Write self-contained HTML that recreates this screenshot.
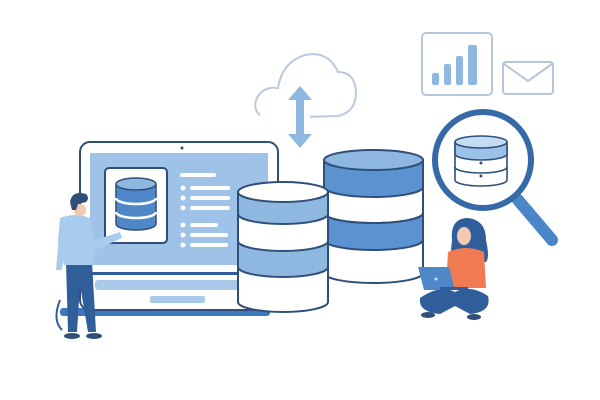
<!DOCTYPE html>
<html><head><meta charset="utf-8"><style>
html,body{margin:0;padding:0;background:#fff;width:600px;height:400px;overflow:hidden}
</style></head><body>
<svg width="600" height="400" viewBox="0 0 600 400" xmlns="http://www.w3.org/2000/svg">
<!-- cloud -->
<path d="M270 118 Q252 116 256 100 Q262 86 278 88 Q282 62 305 55 Q328 50 338 72 Q355 72 356 92 Q356 112 338 116 Z" fill="none" stroke="#b9cbe0" stroke-width="2"/>
<rect x="260" y="114" width="50" height="8" fill="#fff"/>
<!-- double arrow -->
<path d="M300 86 L288 100 L296 100 L296 134 L288 134 L300 148 L312 134 L304 134 L304 100 L312 100 Z" fill="#8fb8e0"/>
<!-- chart -->
<rect x="422" y="33" width="70" height="62" rx="4" fill="#fff" stroke="#b5c7dc" stroke-width="2"/>
<rect x="432" y="73" width="7" height="12" rx="2" fill="#8fb8e0"/>
<rect x="444" y="64" width="7" height="21" rx="2" fill="#8fb8e0"/>
<rect x="456" y="56" width="7" height="29" rx="2" fill="#8fb8e0"/>
<rect x="468" y="45" width="9" height="40" rx="2" fill="#8fb8e0"/>
<!-- envelope -->
<rect x="503" y="62" width="50" height="32" rx="3" fill="#fff" stroke="#b5c7dc" stroke-width="2"/>
<path d="M504 64 L528 81 L552 64" fill="none" stroke="#b5c7dc" stroke-width="2"/>
<!-- magnifier -->
<line x1="518" y1="200" x2="552" y2="240" stroke="#4a86c8" stroke-width="12" stroke-linecap="round"/>
<circle cx="483" cy="160" r="48" fill="#fff" stroke="#3569a8" stroke-width="6"/>
<g stroke="#2f4f7a" stroke-width="1.6">
<path d="M455 142 v38 a26 6 0 0 0 52 0 v-38" fill="#fff"/>
<path d="M455 142 v12 a26 6 0 0 0 52 0 v-12" fill="#9cc2ea"/>
<ellipse cx="481" cy="142" rx="26" ry="6" fill="#c4dcf2"/>
<path d="M455 167 a26 6 0 0 0 52 0" fill="none"/>
</g>
<circle cx="481" cy="163" r="1.5" fill="#2f4f7a"/><circle cx="481" cy="176" r="1.5" fill="#2f4f7a"/>
<!-- laptop -->
<rect x="60" y="308" width="210" height="8" rx="3" fill="#3f78bd"/>
<rect x="80" y="142" width="198" height="168" rx="10" fill="#fff" stroke="#2f4f7a" stroke-width="2"/>
<circle cx="182" cy="148" r="1.5" fill="#2f4f7a"/>
<rect x="90" y="153" width="178" height="112" fill="#9fc3e8"/>
<rect x="90" y="272" width="178" height="3" fill="#2f5e9a"/>
<rect x="95" y="280" width="170" height="10" rx="3" fill="#a9c9ea"/>
<rect x="150" y="296" width="55" height="7" rx="2" fill="#a9c9ea"/>
<rect x="105" y="168" width="62" height="75" rx="4" fill="#fff" stroke="#2f4f7a" stroke-width="2"/>
<g stroke="#2f4f7a" stroke-width="1.5" fill="#4f88c8">
<path d="M116 184 v40 a20 6 0 0 0 40 0 v-40"/>
<ellipse cx="136" cy="184" rx="20" ry="6" fill="#8fb8e0"/>
</g>
<path d="M116 198 a20 6 0 0 0 40 0 M116 212 a20 6 0 0 0 40 0" fill="none" stroke="#fff" stroke-width="2.5"/>
<g fill="#fff">
<rect x="180" y="173" width="36" height="4" rx="2"/>
<circle cx="183" cy="188" r="2.5"/><rect x="190" y="186" width="40" height="4" rx="2"/>
<circle cx="183" cy="198" r="2.5"/><rect x="190" y="196" width="40" height="4" rx="2"/>
<circle cx="183" cy="208" r="2.5"/><rect x="190" y="206" width="40" height="4" rx="2"/>
<circle cx="183" cy="225" r="2.5"/><rect x="190" y="223" width="28" height="4" rx="2"/>
<circle cx="183" cy="235" r="2.5"/><rect x="190" y="233" width="38" height="4" rx="2"/>
<circle cx="183" cy="245" r="2.5"/><rect x="190" y="243" width="38" height="4" rx="2"/>
</g>
<!-- back db -->
<g stroke="#2f4f7a" stroke-width="2">
<path d="M324 160 V273 A49.5 10 0 0 0 423 273 V160" fill="#fff"/>
<path d="M324 160 V187 A49.5 10 0 0 0 423 187 V160 Z" fill="#5a93d0"/>
<path d="M324 223 V240 A49.5 10 0 0 0 423 240 V213 A49.5 10 0 0 1 324 213 Z" fill="#5a93d0"/>
<ellipse cx="373.5" cy="160" rx="49.5" ry="10" fill="#8fb8e0"/>
<path d="M324 213 A49.5 10 0 0 0 423 213" fill="none"/>
</g>
<!-- front db -->
<g stroke="#2f4f7a" stroke-width="2">
<path d="M238 192 V302 A45 10 0 0 0 328 302 V192" fill="#fff"/>
<path d="M238 192 V214 A45 10 0 0 0 328 214 V192 Z" fill="#8fb8e0"/>
<path d="M238 267 A45 10 0 0 0 328 267 V241 A45 10 0 0 1 238 241 Z" fill="#8fb8e0"/>
<ellipse cx="283" cy="192" rx="45" ry="10" fill="#fff"/>
</g>
<!-- man -->
<path d="M60 300 Q52 320 62 330" fill="none" stroke="#2f5e9a" stroke-width="2"/>
<path d="M66 262 L92 262 L96 332 L88 332 L80 285 L77 332 L68 332 Z" fill="#2f5e9a"/>
<ellipse cx="72" cy="336" rx="8" ry="3" fill="#2f4f7a"/><ellipse cx="94" cy="336" rx="8" ry="3" fill="#2f4f7a"/>
<path d="M60 218 Q75 212 90 218 L95 240 L120 232 L122 238 L96 250 L92 265 L64 265 L58 240 Z" fill="#a9ccec"/>
<path d="M60 222 L56 270 L62 270 L66 236 Z" fill="#a9ccec"/>
<rect x="74" y="204" width="12" height="12" rx="5" fill="#f2c9b0"/>
<path d="M70 202 Q72 190 86 194 Q90 198 86 202 L78 204 L76 210 L72 210 Z" fill="#2f4f7a"/>
<!-- woman -->
<path d="M452 240 Q450 218 468 218 Q486 220 486 240 Q490 258 486 262 L450 262 Z" fill="#2f5e9a"/>
<ellipse cx="464" cy="236" rx="7" ry="9" fill="#f2c9b0"/>
<path d="M448 252 Q466 244 484 252 L486 288 L446 288 Z" fill="#f07a52"/>
<path d="M420 298 Q440 284 455 292 Q470 284 488 296 Q492 312 470 314 L455 306 L440 314 Q418 312 420 298 Z" fill="#2f5e9a"/>
<ellipse cx="428" cy="315" rx="7" ry="3" fill="#2f4f7a"/><ellipse cx="474" cy="317" rx="7" ry="3" fill="#2f4f7a"/>
<path d="M418 267 L449 267 L455 290 L424 290 Z" fill="#4f88c8"/>
<rect x="440" y="287" width="28" height="3" fill="#2f5e9a"/>
<circle cx="436" cy="279" r="1.5" fill="#cfe3f7"/>
</svg>
</body></html>
